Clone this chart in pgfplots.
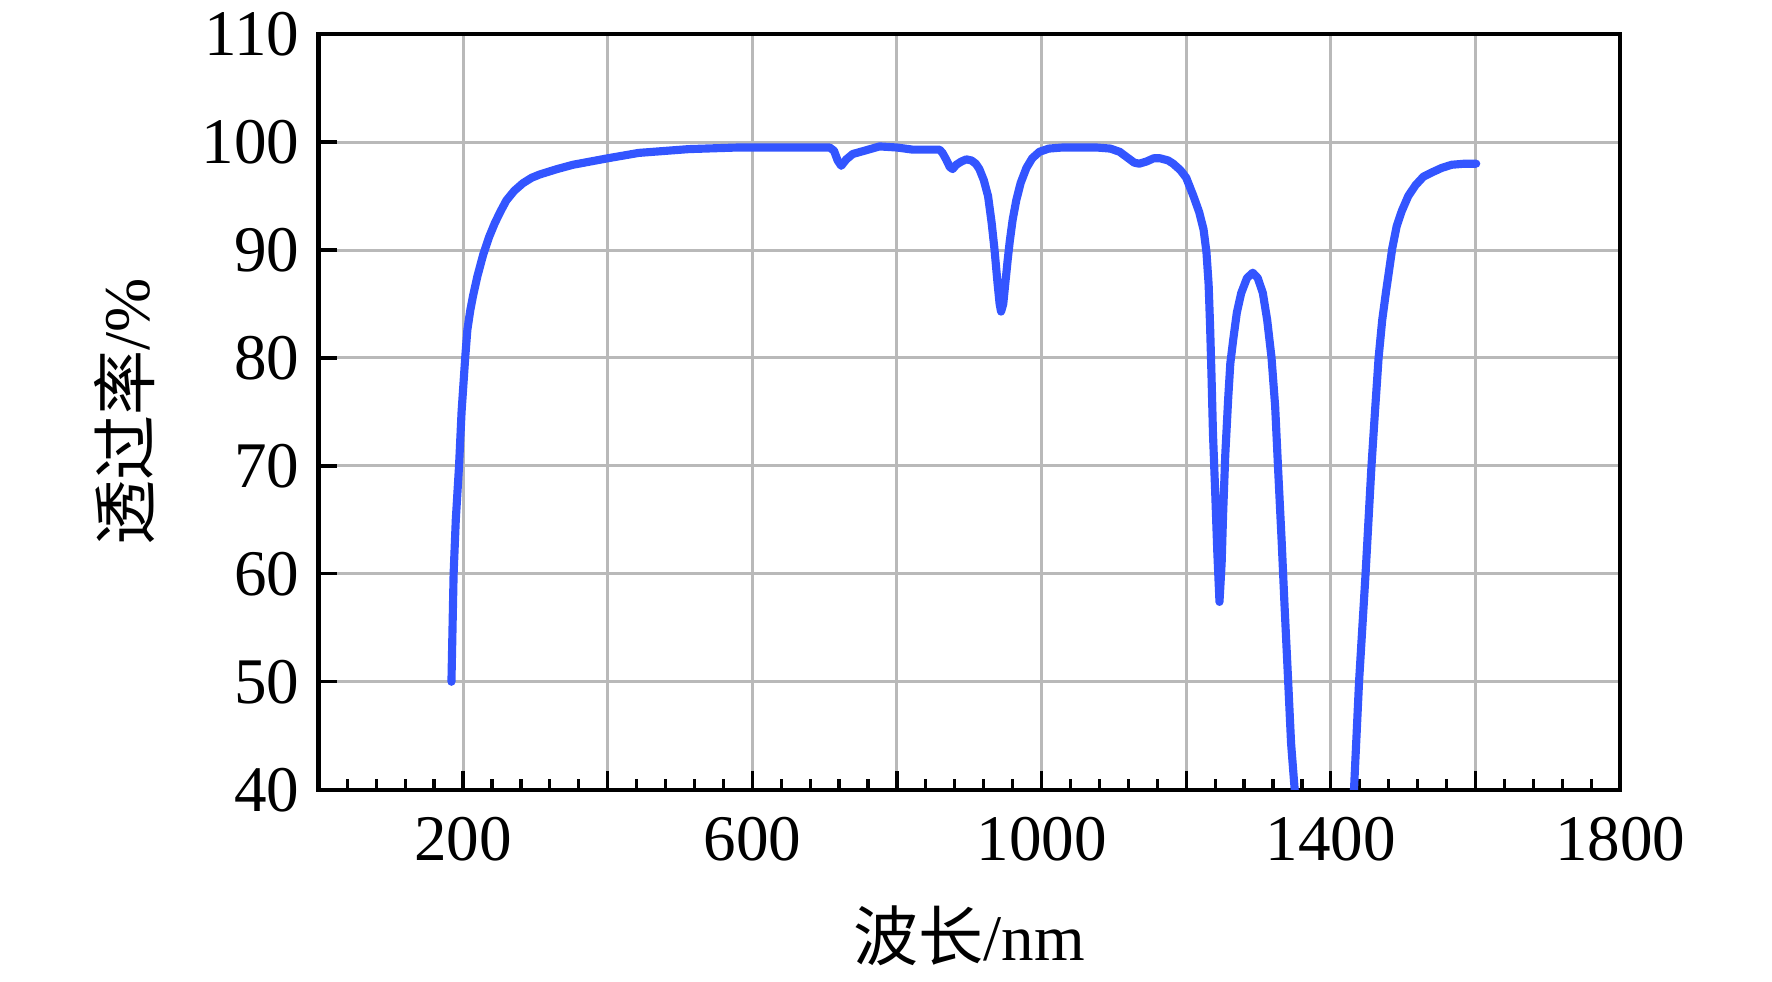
\documentclass[border=0pt]{standalone}
\usepackage{fontspec}
\setmainfont{Liberation Serif}
\newfontfamily\cjk{Noto Sans CJK SC}
\usepackage{pgfplots}
\pgfplotsset{compat=1.18}
\definecolor{curve}{RGB}{51,85,255}

\begin{document}
\begin{tikzpicture}
\begin{axis}[
  scale only axis,
  width=240pt, height=139.3pt,
  xmin=0, xmax=1800, ymin=40, ymax=110,
  xtick={200,400,...,1800},
  xticklabels={200,,600,,1000,,1400,,1800},
  minor xtick={40,80,...,1760},
  ytick={40,50,...,110},
  tick pos=left, tick align=inside,
  major tick length=3.5pt, minor tick length=1.9pt,
  every tick/.style={black, line width=0.6pt},
  axis line style={line width=0.8pt},
  grid=major,
  major grid style={gray!55, line width=0.55pt},
  tick label style={font=\fontsize{12}{14}\selectfont},
  xticklabel style={yshift=-1.5pt},
  /pgf/number format/assume math mode=true,
  /pgf/number format/set thousands separator={},
  xlabel={{\cjk 波长}/nm},
  ylabel={{\cjk 透过率}/\%},
  label style={font=\fontsize{12}{14}\selectfont},
  xlabel style={at={(axis description cs:0.5,0)}, anchor=center, yshift=-27pt},
  ylabel style={at={(axis description cs:0,0.5)}, anchor=center, yshift=35.8pt},
]
\addplot[curve, line width=1.5pt, line cap=round, line join=round] coordinates {
(184,50) (185.5,55) (187,60) (190,65) (194.5,70) (198,75) (203,80)
(206,82.6) (210,84.4) (214,85.8) (220,87.6) (228,89.6) (236,91.2)
(244,92.5) (252,93.6) (260,94.6) (271,95.5) (283,96.2) (295,96.7)
(306,97.0) (330,97.5) (352,97.9) (400,98.5) (443,99.0) (512,99.35)
(580,99.5) (638,99.5) (680,99.5) (707,99.5) (713,99.2) (718,98.3)
(723,97.8) (730,98.4) (739,98.9) (755,99.2) (776,99.6) (800,99.5)
(822,99.3) (859,99.3) (863,99.0) (868,98.4) (873,97.7) (877,97.5)
(882,97.9) (889,98.2) (896,98.4) (903,98.3) (909,98.0) (914,97.5)
(920,96.5) (926,95.0) (931,92.5) (935,90.0) (939,87) (942,85) (944,84.3)
(947,85) (950,87) (953,89) (956,90.8) (960,92.8) (965,94.6) (971,96.2)
(979,97.6) (987,98.5) (997,99.1) (1010,99.4) (1029,99.5) (1050,99.5)
(1076,99.5) (1095,99.4) (1108,99.1) (1120,98.5) (1128,98.1) (1135,98.0)
(1145,98.2) (1155,98.5) (1164,98.5) (1175,98.3) (1182,98.0) (1192,97.4)
(1200,96.7) (1210,95.0) (1218,93.5) (1224,91.9) (1228,89.8) (1231,86.8)
(1233,83) (1235,78.3) (1237,73) (1240,67.7) (1243,62) (1246,57.4)
(1249,61) (1251,65.5) (1254,71) (1258,76.2) (1261,79.5) (1265,81.7)
(1270,84.2) (1276,86.0) (1284,87.4) (1292,87.9) (1299,87.4) (1306,86.0)
(1312,83.5) (1318,80.0) (1323,75.5) (1327,69.8) (1332,63) (1336,57.0)
(1341,50) (1345,44.3) (1350,40.0) (1360,32) (1380,22) (1395,18) (1410,24)
(1425,34) (1432,40) (1439,50) (1448,60) (1456,69.8) (1461,75) (1466,80)
(1471,83.5) (1476,86.0) (1485,90.2) (1491,92.2) (1498,93.6) (1507,95.0)
(1517,96.0) (1528,96.8) (1540,97.2) (1553,97.6) (1567,97.9) (1585,98.0)
(1601,98.0)
};
\end{axis}
\pgfresetboundingbox
\path (current axis.south west) +(-58.7pt,-35.4pt) (current axis.north east) +(28pt,6.3pt);
\end{tikzpicture}
\end{document}
